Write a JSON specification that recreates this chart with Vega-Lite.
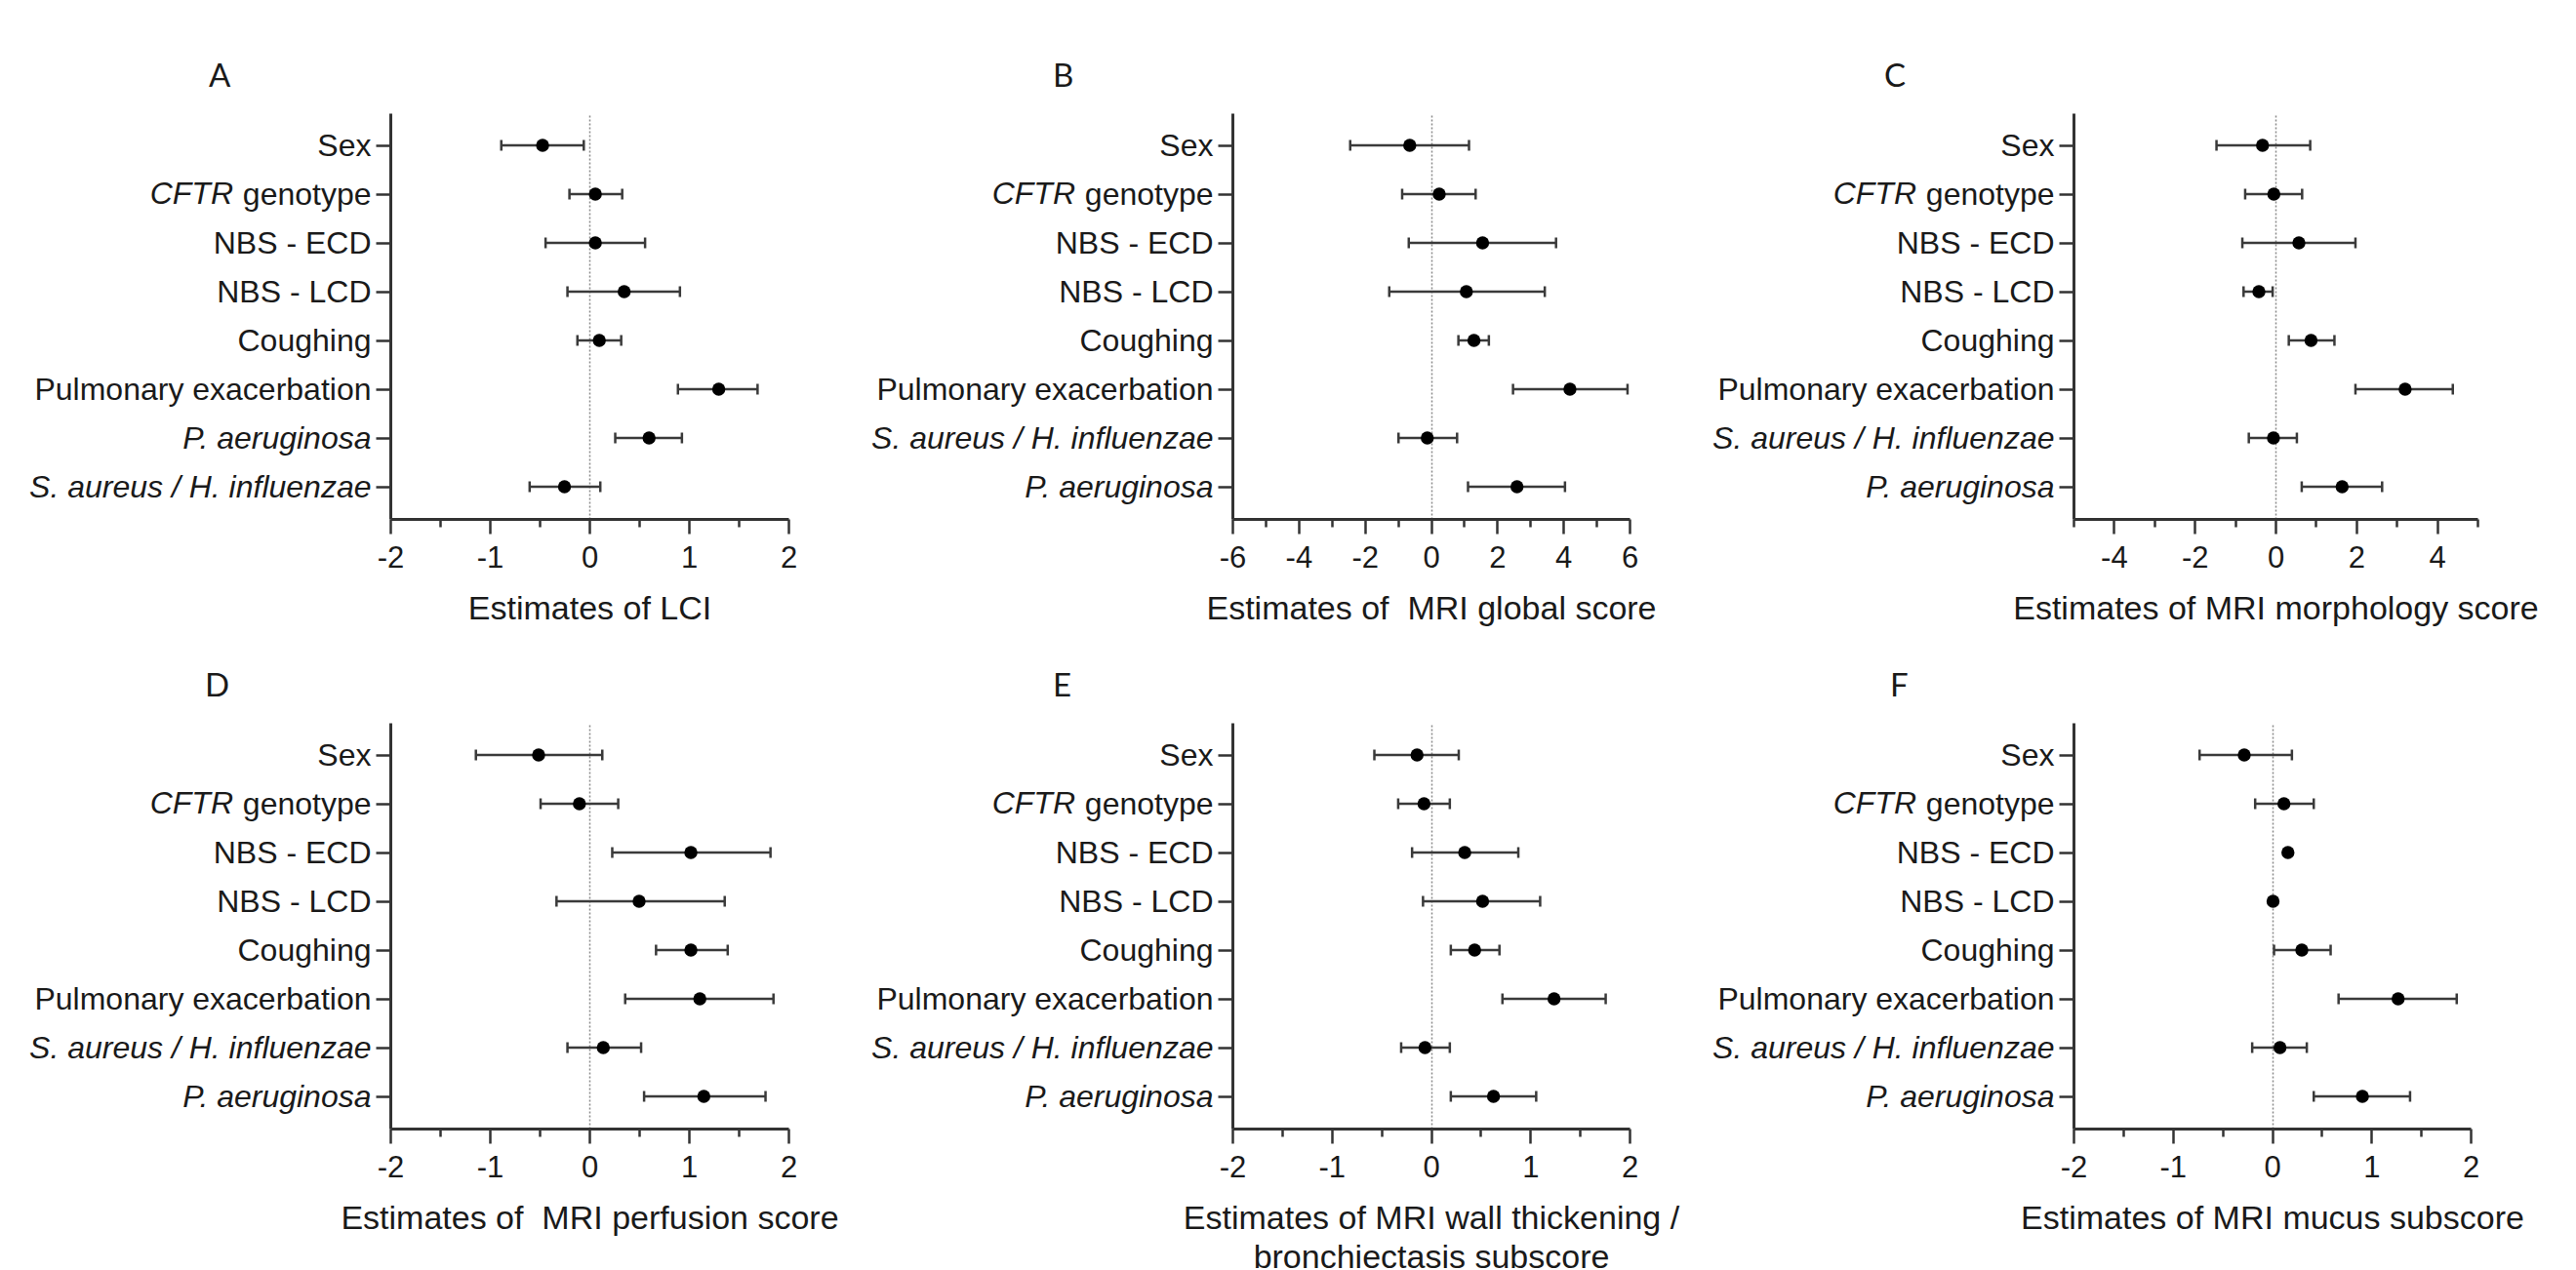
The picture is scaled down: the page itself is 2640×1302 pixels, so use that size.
{
  "$schema": "https://vega.github.io/schema/vega-lite/v6.json",
  "background": "white",
  "padding": {"left": 29, "top": 63, "right": 5, "bottom": 5},
  "datasets": {
    "est": [
      {"panel": "A", "var": "Sex", "est": -0.47, "lo": -0.885, "hi": -0.056},
      {"panel": "A", "var": "CFTR genotype", "est": 0.06, "lo": -0.2, "hi": 0.33},
      {"panel": "A", "var": "NBS - ECD", "est": 0.06, "lo": -0.44, "hi": 0.56},
      {"panel": "A", "var": "NBS - LCD", "est": 0.35, "lo": -0.22, "hi": 0.91},
      {"panel": "A", "var": "Coughing", "est": 0.1, "lo": -0.12, "hi": 0.32},
      {"panel": "A", "var": "Pulmonary exacerbation", "est": 1.3, "lo": 0.89, "hi": 1.69},
      {"panel": "A", "var": "P. aeruginosa", "est": 0.6, "lo": 0.26, "hi": 0.93},
      {"panel": "A", "var": "S. aureus / H. influenzae", "est": -0.25, "lo": -0.6, "hi": 0.11},
      {"panel": "B", "var": "Sex", "est": -0.64, "lo": -2.44, "hi": 1.15},
      {"panel": "B", "var": "CFTR genotype", "est": 0.25, "lo": -0.87, "hi": 1.35},
      {"panel": "B", "var": "NBS - ECD", "est": 1.56, "lo": -0.67, "hi": 3.78},
      {"panel": "B", "var": "NBS - LCD", "est": 1.07, "lo": -1.26, "hi": 3.44},
      {"panel": "B", "var": "Coughing", "est": 1.3, "lo": 0.83, "hi": 1.75},
      {"panel": "B", "var": "Pulmonary exacerbation", "est": 4.2, "lo": 2.48, "hi": 5.94},
      {"panel": "B", "var": "S. aureus / H. influenzae", "est": -0.11, "lo": -0.98, "hi": 0.79},
      {"panel": "B", "var": "P. aeruginosa", "est": 2.6, "lo": 1.12, "hi": 4.05},
      {"panel": "C", "var": "Sex", "est": -0.32, "lo": -1.46, "hi": 0.86},
      {"panel": "C", "var": "CFTR genotype", "est": -0.04, "lo": -0.75, "hi": 0.66},
      {"panel": "C", "var": "NBS - ECD", "est": 0.58, "lo": -0.82, "hi": 1.98},
      {"panel": "C", "var": "NBS - LCD", "est": -0.41, "lo": -0.79, "hi": -0.07},
      {"panel": "C", "var": "Coughing", "est": 0.88, "lo": 0.33, "hi": 1.46},
      {"panel": "C", "var": "Pulmonary exacerbation", "est": 3.21, "lo": 1.98, "hi": 4.39},
      {"panel": "C", "var": "S. aureus / H. influenzae", "est": -0.05, "lo": -0.66, "hi": 0.53},
      {"panel": "C", "var": "P. aeruginosa", "est": 1.65, "lo": 0.65, "hi": 2.64},
      {"panel": "D", "var": "Sex", "est": -0.51, "lo": -1.14, "hi": 0.13},
      {"panel": "D", "var": "CFTR genotype", "est": -0.1, "lo": -0.49, "hi": 0.29},
      {"panel": "D", "var": "NBS - ECD", "est": 1.02, "lo": 0.23, "hi": 1.82},
      {"panel": "D", "var": "NBS - LCD", "est": 0.5, "lo": -0.33, "hi": 1.36},
      {"panel": "D", "var": "Coughing", "est": 1.02, "lo": 0.67, "hi": 1.39},
      {"panel": "D", "var": "Pulmonary exacerbation", "est": 1.11, "lo": 0.36, "hi": 1.85},
      {"panel": "D", "var": "S. aureus / H. influenzae", "est": 0.14, "lo": -0.22, "hi": 0.52},
      {"panel": "D", "var": "P. aeruginosa", "est": 1.15, "lo": 0.55, "hi": 1.77},
      {"panel": "E", "var": "Sex", "est": -0.14, "lo": -0.57, "hi": 0.28},
      {"panel": "E", "var": "CFTR genotype", "est": -0.07, "lo": -0.33, "hi": 0.19},
      {"panel": "E", "var": "NBS - ECD", "est": 0.34, "lo": -0.19, "hi": 0.88},
      {"panel": "E", "var": "NBS - LCD", "est": 0.52, "lo": -0.08, "hi": 1.1},
      {"panel": "E", "var": "Coughing", "est": 0.44, "lo": 0.2, "hi": 0.69},
      {"panel": "E", "var": "Pulmonary exacerbation", "est": 1.24, "lo": 0.72, "hi": 1.76},
      {"panel": "E", "var": "S. aureus / H. influenzae", "est": -0.06, "lo": -0.3, "hi": 0.19},
      {"panel": "E", "var": "P. aeruginosa", "est": 0.63, "lo": 0.2, "hi": 1.06},
      {"panel": "F", "var": "Sex", "est": -0.28, "lo": -0.73, "hi": 0.2},
      {"panel": "F", "var": "CFTR genotype", "est": 0.12, "lo": -0.17, "hi": 0.42},
      {"panel": "F", "var": "NBS - ECD", "est": 0.16, "lo": null, "hi": null},
      {"panel": "F", "var": "NBS - LCD", "est": 0.01, "lo": null, "hi": null},
      {"panel": "F", "var": "Coughing", "est": 0.3, "lo": 0.02, "hi": 0.59},
      {"panel": "F", "var": "Pulmonary exacerbation", "est": 1.27, "lo": 0.67, "hi": 1.86},
      {"panel": "F", "var": "S. aureus / H. influenzae", "est": 0.08, "lo": -0.2, "hi": 0.35},
      {"panel": "F", "var": "P. aeruginosa", "est": 0.91, "lo": 0.42, "hi": 1.39}
    ]
  },
  "data": {"name": "est"},
  "columns": 3,
  "spacing": {"row": 209, "column": 455},
  "bounds": "flush",
  "align": "each",
  "concat": [
    {
      "width": 408, "height": 416,
      "title": {"text": "A", "anchor": "start", "frame": "group", "dx": -186, "offset": -6, "fontSize": 33, "font": "Lato", "fontWeight": "normal", "color": "#1a1a1a", "baseline": "alphabetic"},
      "transform": [{"filter": "datum.panel == 'A'"}],
      "layer": [
        {"transform": [{"filter": "isValid(datum.lo)"}], "mark": {"type": "rule", "color": "#3a3a3a", "strokeWidth": 2.5},
         "encoding": {
           "x": {"field": "lo", "type": "quantitative", "scale": {"domain": [-2, 2], "nice": false, "zero": false}, "axis": {"title": "Estimates of LCI", "values": [-2, -1.5, -1, -0.5, 0, 0.5, 1, 1.5, 2], "labelExpr": "datum.value % 1 == 0 ? '' + datum.value : ''", "grid": true, "encoding": {"ticks": {"y2": {"condition": {"test": "datum.value % 1 != 0", "value": 8}, "value": 15}}, "grid": {"opacity": {"condition": {"test": "datum.value == 0", "value": 1}, "value": 0}}}}},
           "x2": {"field": "hi"},
           "y": {"field": "var", "type": "nominal", "scale": {"type": "point", "padding": 0.66, "domain": ["Sex", "CFTR genotype", "NBS - ECD", "NBS - LCD", "Coughing", "Pulmonary exacerbation", "P. aeruginosa", "S. aureus / H. influenzae"]}, "axis": {"title": null, "labelExpr": "datum.value == 'CFTR genotype' ? 'genotype' : datum.value", "encoding": {"labels": {"fontStyle": {"condition": {"test": "datum.value == 'P. aeruginosa' || datum.value == 'S. aureus / H. influenzae'", "value": "italic"}, "value": "normal"}}}}}}},
        {"transform": [{"filter": "isValid(datum.lo)"}], "mark": {"type": "tick", "color": "#3a3a3a", "thickness": 2.5, "size": 11, "orient": "vertical", "opacity": 1},
         "encoding": {
           "x": {"field": "lo", "type": "quantitative", "scale": {"domain": [-2, 2], "nice": false, "zero": false}, "axis": {"title": "Estimates of LCI", "values": [-2, -1.5, -1, -0.5, 0, 0.5, 1, 1.5, 2], "labelExpr": "datum.value % 1 == 0 ? '' + datum.value : ''", "grid": true, "encoding": {"ticks": {"y2": {"condition": {"test": "datum.value % 1 != 0", "value": 8}, "value": 15}}, "grid": {"opacity": {"condition": {"test": "datum.value == 0", "value": 1}, "value": 0}}}}},
           "y": {"field": "var", "type": "nominal", "scale": {"type": "point", "padding": 0.66, "domain": ["Sex", "CFTR genotype", "NBS - ECD", "NBS - LCD", "Coughing", "Pulmonary exacerbation", "P. aeruginosa", "S. aureus / H. influenzae"]}, "axis": {"title": null, "labelExpr": "datum.value == 'CFTR genotype' ? 'genotype' : datum.value", "encoding": {"labels": {"fontStyle": {"condition": {"test": "datum.value == 'P. aeruginosa' || datum.value == 'S. aureus / H. influenzae'", "value": "italic"}, "value": "normal"}}}}}}},
        {"transform": [{"filter": "isValid(datum.hi)"}], "mark": {"type": "tick", "color": "#3a3a3a", "thickness": 2.5, "size": 11, "orient": "vertical", "opacity": 1},
         "encoding": {
           "x": {"field": "hi", "type": "quantitative", "scale": {"domain": [-2, 2], "nice": false, "zero": false}, "axis": {"title": "Estimates of LCI", "values": [-2, -1.5, -1, -0.5, 0, 0.5, 1, 1.5, 2], "labelExpr": "datum.value % 1 == 0 ? '' + datum.value : ''", "grid": true, "encoding": {"ticks": {"y2": {"condition": {"test": "datum.value % 1 != 0", "value": 8}, "value": 15}}, "grid": {"opacity": {"condition": {"test": "datum.value == 0", "value": 1}, "value": 0}}}}},
           "y": {"field": "var", "type": "nominal", "scale": {"type": "point", "padding": 0.66, "domain": ["Sex", "CFTR genotype", "NBS - ECD", "NBS - LCD", "Coughing", "Pulmonary exacerbation", "P. aeruginosa", "S. aureus / H. influenzae"]}, "axis": {"title": null, "labelExpr": "datum.value == 'CFTR genotype' ? 'genotype' : datum.value", "encoding": {"labels": {"fontStyle": {"condition": {"test": "datum.value == 'P. aeruginosa' || datum.value == 'S. aureus / H. influenzae'", "value": "italic"}, "value": "normal"}}}}}}},
        {"mark": {"type": "circle", "color": "#000000", "opacity": 1, "size": 180},
         "encoding": {
           "x": {"field": "est", "type": "quantitative", "scale": {"domain": [-2, 2], "nice": false, "zero": false}, "axis": {"title": "Estimates of LCI", "values": [-2, -1.5, -1, -0.5, 0, 0.5, 1, 1.5, 2], "labelExpr": "datum.value % 1 == 0 ? '' + datum.value : ''", "grid": true, "encoding": {"ticks": {"y2": {"condition": {"test": "datum.value % 1 != 0", "value": 8}, "value": 15}}, "grid": {"opacity": {"condition": {"test": "datum.value == 0", "value": 1}, "value": 0}}}}},
           "y": {"field": "var", "type": "nominal", "scale": {"type": "point", "padding": 0.66, "domain": ["Sex", "CFTR genotype", "NBS - ECD", "NBS - LCD", "Coughing", "Pulmonary exacerbation", "P. aeruginosa", "S. aureus / H. influenzae"]}, "axis": {"title": null, "labelExpr": "datum.value == 'CFTR genotype' ? 'genotype' : datum.value", "encoding": {"labels": {"fontStyle": {"condition": {"test": "datum.value == 'P. aeruginosa' || datum.value == 'S. aureus / H. influenzae'", "value": "italic"}, "value": "normal"}}}}}}},
        {"transform": [{"filter": "datum.var == 'CFTR genotype'"}],
         "mark": {"type": "text", "text": "CFTR", "fontStyle": "italic", "fontSize": 32, "font": "Liberation Sans", "align": "right", "baseline": "middle", "dx": -161, "color": "#1a1a1a"},
         "encoding": {
           "x": {"datum": -2, "type": "quantitative", "scale": {"domain": [-2, 2], "nice": false, "zero": false}, "axis": {"title": "Estimates of LCI", "values": [-2, -1.5, -1, -0.5, 0, 0.5, 1, 1.5, 2], "labelExpr": "datum.value % 1 == 0 ? '' + datum.value : ''", "grid": true, "encoding": {"ticks": {"y2": {"condition": {"test": "datum.value % 1 != 0", "value": 8}, "value": 15}}, "grid": {"opacity": {"condition": {"test": "datum.value == 0", "value": 1}, "value": 0}}}}},
           "y": {"field": "var", "type": "nominal", "scale": {"type": "point", "padding": 0.66, "domain": ["Sex", "CFTR genotype", "NBS - ECD", "NBS - LCD", "Coughing", "Pulmonary exacerbation", "P. aeruginosa", "S. aureus / H. influenzae"]}, "axis": {"title": null, "labelExpr": "datum.value == 'CFTR genotype' ? 'genotype' : datum.value", "encoding": {"labels": {"fontStyle": {"condition": {"test": "datum.value == 'P. aeruginosa' || datum.value == 'S. aureus / H. influenzae'", "value": "italic"}, "value": "normal"}}}}}}}
      ]
    },
    {
      "width": 407, "height": 416,
      "title": {"text": "B", "anchor": "start", "frame": "group", "dx": -184, "offset": -6, "fontSize": 33, "font": "Lato", "fontWeight": "normal", "color": "#1a1a1a", "baseline": "alphabetic"},
      "transform": [{"filter": "datum.panel == 'B'"}],
      "layer": [
        {"transform": [{"filter": "isValid(datum.lo)"}], "mark": {"type": "rule", "color": "#3a3a3a", "strokeWidth": 2.5},
         "encoding": {
           "x": {"field": "lo", "type": "quantitative", "scale": {"domain": [-6, 6], "nice": false, "zero": false}, "axis": {"title": "Estimates of\u00a0 MRI global score", "values": [-6, -5, -4, -3, -2, -1, 0, 1, 2, 3, 4, 5, 6], "labelExpr": "datum.value % 2 == 0 ? '' + datum.value : ''", "grid": true, "encoding": {"ticks": {"y2": {"condition": {"test": "datum.value % 2 != 0", "value": 8}, "value": 15}}, "grid": {"opacity": {"condition": {"test": "datum.value == 0", "value": 1}, "value": 0}}}}},
           "x2": {"field": "hi"},
           "y": {"field": "var", "type": "nominal", "scale": {"type": "point", "padding": 0.66, "domain": ["Sex", "CFTR genotype", "NBS - ECD", "NBS - LCD", "Coughing", "Pulmonary exacerbation", "S. aureus / H. influenzae", "P. aeruginosa"]}, "axis": {"title": null, "labelExpr": "datum.value == 'CFTR genotype' ? 'genotype' : datum.value", "encoding": {"labels": {"fontStyle": {"condition": {"test": "datum.value == 'P. aeruginosa' || datum.value == 'S. aureus / H. influenzae'", "value": "italic"}, "value": "normal"}}}}}}},
        {"transform": [{"filter": "isValid(datum.lo)"}], "mark": {"type": "tick", "color": "#3a3a3a", "thickness": 2.5, "size": 11, "orient": "vertical", "opacity": 1},
         "encoding": {
           "x": {"field": "lo", "type": "quantitative", "scale": {"domain": [-6, 6], "nice": false, "zero": false}, "axis": {"title": "Estimates of\u00a0 MRI global score", "values": [-6, -5, -4, -3, -2, -1, 0, 1, 2, 3, 4, 5, 6], "labelExpr": "datum.value % 2 == 0 ? '' + datum.value : ''", "grid": true, "encoding": {"ticks": {"y2": {"condition": {"test": "datum.value % 2 != 0", "value": 8}, "value": 15}}, "grid": {"opacity": {"condition": {"test": "datum.value == 0", "value": 1}, "value": 0}}}}},
           "y": {"field": "var", "type": "nominal", "scale": {"type": "point", "padding": 0.66, "domain": ["Sex", "CFTR genotype", "NBS - ECD", "NBS - LCD", "Coughing", "Pulmonary exacerbation", "S. aureus / H. influenzae", "P. aeruginosa"]}, "axis": {"title": null, "labelExpr": "datum.value == 'CFTR genotype' ? 'genotype' : datum.value", "encoding": {"labels": {"fontStyle": {"condition": {"test": "datum.value == 'P. aeruginosa' || datum.value == 'S. aureus / H. influenzae'", "value": "italic"}, "value": "normal"}}}}}}},
        {"transform": [{"filter": "isValid(datum.hi)"}], "mark": {"type": "tick", "color": "#3a3a3a", "thickness": 2.5, "size": 11, "orient": "vertical", "opacity": 1},
         "encoding": {
           "x": {"field": "hi", "type": "quantitative", "scale": {"domain": [-6, 6], "nice": false, "zero": false}, "axis": {"title": "Estimates of\u00a0 MRI global score", "values": [-6, -5, -4, -3, -2, -1, 0, 1, 2, 3, 4, 5, 6], "labelExpr": "datum.value % 2 == 0 ? '' + datum.value : ''", "grid": true, "encoding": {"ticks": {"y2": {"condition": {"test": "datum.value % 2 != 0", "value": 8}, "value": 15}}, "grid": {"opacity": {"condition": {"test": "datum.value == 0", "value": 1}, "value": 0}}}}},
           "y": {"field": "var", "type": "nominal", "scale": {"type": "point", "padding": 0.66, "domain": ["Sex", "CFTR genotype", "NBS - ECD", "NBS - LCD", "Coughing", "Pulmonary exacerbation", "S. aureus / H. influenzae", "P. aeruginosa"]}, "axis": {"title": null, "labelExpr": "datum.value == 'CFTR genotype' ? 'genotype' : datum.value", "encoding": {"labels": {"fontStyle": {"condition": {"test": "datum.value == 'P. aeruginosa' || datum.value == 'S. aureus / H. influenzae'", "value": "italic"}, "value": "normal"}}}}}}},
        {"mark": {"type": "circle", "color": "#000000", "opacity": 1, "size": 180},
         "encoding": {
           "x": {"field": "est", "type": "quantitative", "scale": {"domain": [-6, 6], "nice": false, "zero": false}, "axis": {"title": "Estimates of\u00a0 MRI global score", "values": [-6, -5, -4, -3, -2, -1, 0, 1, 2, 3, 4, 5, 6], "labelExpr": "datum.value % 2 == 0 ? '' + datum.value : ''", "grid": true, "encoding": {"ticks": {"y2": {"condition": {"test": "datum.value % 2 != 0", "value": 8}, "value": 15}}, "grid": {"opacity": {"condition": {"test": "datum.value == 0", "value": 1}, "value": 0}}}}},
           "y": {"field": "var", "type": "nominal", "scale": {"type": "point", "padding": 0.66, "domain": ["Sex", "CFTR genotype", "NBS - ECD", "NBS - LCD", "Coughing", "Pulmonary exacerbation", "S. aureus / H. influenzae", "P. aeruginosa"]}, "axis": {"title": null, "labelExpr": "datum.value == 'CFTR genotype' ? 'genotype' : datum.value", "encoding": {"labels": {"fontStyle": {"condition": {"test": "datum.value == 'P. aeruginosa' || datum.value == 'S. aureus / H. influenzae'", "value": "italic"}, "value": "normal"}}}}}}},
        {"transform": [{"filter": "datum.var == 'CFTR genotype'"}],
         "mark": {"type": "text", "text": "CFTR", "fontStyle": "italic", "fontSize": 32, "font": "Liberation Sans", "align": "right", "baseline": "middle", "dx": -161, "color": "#1a1a1a"},
         "encoding": {
           "x": {"datum": -6, "type": "quantitative", "scale": {"domain": [-6, 6], "nice": false, "zero": false}, "axis": {"title": "Estimates of\u00a0 MRI global score", "values": [-6, -5, -4, -3, -2, -1, 0, 1, 2, 3, 4, 5, 6], "labelExpr": "datum.value % 2 == 0 ? '' + datum.value : ''", "grid": true, "encoding": {"ticks": {"y2": {"condition": {"test": "datum.value % 2 != 0", "value": 8}, "value": 15}}, "grid": {"opacity": {"condition": {"test": "datum.value == 0", "value": 1}, "value": 0}}}}},
           "y": {"field": "var", "type": "nominal", "scale": {"type": "point", "padding": 0.66, "domain": ["Sex", "CFTR genotype", "NBS - ECD", "NBS - LCD", "Coughing", "Pulmonary exacerbation", "S. aureus / H. influenzae", "P. aeruginosa"]}, "axis": {"title": null, "labelExpr": "datum.value == 'CFTR genotype' ? 'genotype' : datum.value", "encoding": {"labels": {"fontStyle": {"condition": {"test": "datum.value == 'P. aeruginosa' || datum.value == 'S. aureus / H. influenzae'", "value": "italic"}, "value": "normal"}}}}}}}
      ]
    },
    {
      "width": 414, "height": 416,
      "title": {"text": "C", "anchor": "start", "frame": "group", "dx": -194, "offset": -6, "fontSize": 33, "font": "Lato", "fontWeight": "normal", "color": "#1a1a1a", "baseline": "alphabetic"},
      "transform": [{"filter": "datum.panel == 'C'"}],
      "layer": [
        {"transform": [{"filter": "isValid(datum.lo)"}], "mark": {"type": "rule", "color": "#3a3a3a", "strokeWidth": 2.5},
         "encoding": {
           "x": {"field": "lo", "type": "quantitative", "scale": {"domain": [-5, 5], "nice": false, "zero": false}, "axis": {"title": "Estimates of MRI morphology score", "values": [-5, -4, -3, -2, -1, 0, 1, 2, 3, 4, 5], "labelExpr": "datum.value % 2 == 0 ? '' + datum.value : ''", "grid": true, "encoding": {"ticks": {"y2": {"condition": {"test": "datum.value % 2 != 0", "value": 8}, "value": 15}}, "grid": {"opacity": {"condition": {"test": "datum.value == 0", "value": 1}, "value": 0}}}}},
           "x2": {"field": "hi"},
           "y": {"field": "var", "type": "nominal", "scale": {"type": "point", "padding": 0.66, "domain": ["Sex", "CFTR genotype", "NBS - ECD", "NBS - LCD", "Coughing", "Pulmonary exacerbation", "S. aureus / H. influenzae", "P. aeruginosa"]}, "axis": {"title": null, "labelExpr": "datum.value == 'CFTR genotype' ? 'genotype' : datum.value", "encoding": {"labels": {"fontStyle": {"condition": {"test": "datum.value == 'P. aeruginosa' || datum.value == 'S. aureus / H. influenzae'", "value": "italic"}, "value": "normal"}}}}}}},
        {"transform": [{"filter": "isValid(datum.lo)"}], "mark": {"type": "tick", "color": "#3a3a3a", "thickness": 2.5, "size": 11, "orient": "vertical", "opacity": 1},
         "encoding": {
           "x": {"field": "lo", "type": "quantitative", "scale": {"domain": [-5, 5], "nice": false, "zero": false}, "axis": {"title": "Estimates of MRI morphology score", "values": [-5, -4, -3, -2, -1, 0, 1, 2, 3, 4, 5], "labelExpr": "datum.value % 2 == 0 ? '' + datum.value : ''", "grid": true, "encoding": {"ticks": {"y2": {"condition": {"test": "datum.value % 2 != 0", "value": 8}, "value": 15}}, "grid": {"opacity": {"condition": {"test": "datum.value == 0", "value": 1}, "value": 0}}}}},
           "y": {"field": "var", "type": "nominal", "scale": {"type": "point", "padding": 0.66, "domain": ["Sex", "CFTR genotype", "NBS - ECD", "NBS - LCD", "Coughing", "Pulmonary exacerbation", "S. aureus / H. influenzae", "P. aeruginosa"]}, "axis": {"title": null, "labelExpr": "datum.value == 'CFTR genotype' ? 'genotype' : datum.value", "encoding": {"labels": {"fontStyle": {"condition": {"test": "datum.value == 'P. aeruginosa' || datum.value == 'S. aureus / H. influenzae'", "value": "italic"}, "value": "normal"}}}}}}},
        {"transform": [{"filter": "isValid(datum.hi)"}], "mark": {"type": "tick", "color": "#3a3a3a", "thickness": 2.5, "size": 11, "orient": "vertical", "opacity": 1},
         "encoding": {
           "x": {"field": "hi", "type": "quantitative", "scale": {"domain": [-5, 5], "nice": false, "zero": false}, "axis": {"title": "Estimates of MRI morphology score", "values": [-5, -4, -3, -2, -1, 0, 1, 2, 3, 4, 5], "labelExpr": "datum.value % 2 == 0 ? '' + datum.value : ''", "grid": true, "encoding": {"ticks": {"y2": {"condition": {"test": "datum.value % 2 != 0", "value": 8}, "value": 15}}, "grid": {"opacity": {"condition": {"test": "datum.value == 0", "value": 1}, "value": 0}}}}},
           "y": {"field": "var", "type": "nominal", "scale": {"type": "point", "padding": 0.66, "domain": ["Sex", "CFTR genotype", "NBS - ECD", "NBS - LCD", "Coughing", "Pulmonary exacerbation", "S. aureus / H. influenzae", "P. aeruginosa"]}, "axis": {"title": null, "labelExpr": "datum.value == 'CFTR genotype' ? 'genotype' : datum.value", "encoding": {"labels": {"fontStyle": {"condition": {"test": "datum.value == 'P. aeruginosa' || datum.value == 'S. aureus / H. influenzae'", "value": "italic"}, "value": "normal"}}}}}}},
        {"mark": {"type": "circle", "color": "#000000", "opacity": 1, "size": 180},
         "encoding": {
           "x": {"field": "est", "type": "quantitative", "scale": {"domain": [-5, 5], "nice": false, "zero": false}, "axis": {"title": "Estimates of MRI morphology score", "values": [-5, -4, -3, -2, -1, 0, 1, 2, 3, 4, 5], "labelExpr": "datum.value % 2 == 0 ? '' + datum.value : ''", "grid": true, "encoding": {"ticks": {"y2": {"condition": {"test": "datum.value % 2 != 0", "value": 8}, "value": 15}}, "grid": {"opacity": {"condition": {"test": "datum.value == 0", "value": 1}, "value": 0}}}}},
           "y": {"field": "var", "type": "nominal", "scale": {"type": "point", "padding": 0.66, "domain": ["Sex", "CFTR genotype", "NBS - ECD", "NBS - LCD", "Coughing", "Pulmonary exacerbation", "S. aureus / H. influenzae", "P. aeruginosa"]}, "axis": {"title": null, "labelExpr": "datum.value == 'CFTR genotype' ? 'genotype' : datum.value", "encoding": {"labels": {"fontStyle": {"condition": {"test": "datum.value == 'P. aeruginosa' || datum.value == 'S. aureus / H. influenzae'", "value": "italic"}, "value": "normal"}}}}}}},
        {"transform": [{"filter": "datum.var == 'CFTR genotype'"}],
         "mark": {"type": "text", "text": "CFTR", "fontStyle": "italic", "fontSize": 32, "font": "Liberation Sans", "align": "right", "baseline": "middle", "dx": -161, "color": "#1a1a1a"},
         "encoding": {
           "x": {"datum": -5, "type": "quantitative", "scale": {"domain": [-5, 5], "nice": false, "zero": false}, "axis": {"title": "Estimates of MRI morphology score", "values": [-5, -4, -3, -2, -1, 0, 1, 2, 3, 4, 5], "labelExpr": "datum.value % 2 == 0 ? '' + datum.value : ''", "grid": true, "encoding": {"ticks": {"y2": {"condition": {"test": "datum.value % 2 != 0", "value": 8}, "value": 15}}, "grid": {"opacity": {"condition": {"test": "datum.value == 0", "value": 1}, "value": 0}}}}},
           "y": {"field": "var", "type": "nominal", "scale": {"type": "point", "padding": 0.66, "domain": ["Sex", "CFTR genotype", "NBS - ECD", "NBS - LCD", "Coughing", "Pulmonary exacerbation", "S. aureus / H. influenzae", "P. aeruginosa"]}, "axis": {"title": null, "labelExpr": "datum.value == 'CFTR genotype' ? 'genotype' : datum.value", "encoding": {"labels": {"fontStyle": {"condition": {"test": "datum.value == 'P. aeruginosa' || datum.value == 'S. aureus / H. influenzae'", "value": "italic"}, "value": "normal"}}}}}}}
      ]
    },
    {
      "width": 408, "height": 416,
      "title": {"text": "D", "anchor": "start", "frame": "group", "dx": -190, "offset": -6, "fontSize": 33, "font": "Lato", "fontWeight": "normal", "color": "#1a1a1a", "baseline": "alphabetic"},
      "transform": [{"filter": "datum.panel == 'D'"}],
      "layer": [
        {"transform": [{"filter": "isValid(datum.lo)"}], "mark": {"type": "rule", "color": "#3a3a3a", "strokeWidth": 2.5},
         "encoding": {
           "x": {"field": "lo", "type": "quantitative", "scale": {"domain": [-2, 2], "nice": false, "zero": false}, "axis": {"title": "Estimates of\u00a0 MRI perfusion score", "values": [-2, -1.5, -1, -0.5, 0, 0.5, 1, 1.5, 2], "labelExpr": "datum.value % 1 == 0 ? '' + datum.value : ''", "grid": true, "encoding": {"ticks": {"y2": {"condition": {"test": "datum.value % 1 != 0", "value": 8}, "value": 15}}, "grid": {"opacity": {"condition": {"test": "datum.value == 0", "value": 1}, "value": 0}}}}},
           "x2": {"field": "hi"},
           "y": {"field": "var", "type": "nominal", "scale": {"type": "point", "padding": 0.66, "domain": ["Sex", "CFTR genotype", "NBS - ECD", "NBS - LCD", "Coughing", "Pulmonary exacerbation", "S. aureus / H. influenzae", "P. aeruginosa"]}, "axis": {"title": null, "labelExpr": "datum.value == 'CFTR genotype' ? 'genotype' : datum.value", "encoding": {"labels": {"fontStyle": {"condition": {"test": "datum.value == 'P. aeruginosa' || datum.value == 'S. aureus / H. influenzae'", "value": "italic"}, "value": "normal"}}}}}}},
        {"transform": [{"filter": "isValid(datum.lo)"}], "mark": {"type": "tick", "color": "#3a3a3a", "thickness": 2.5, "size": 11, "orient": "vertical", "opacity": 1},
         "encoding": {
           "x": {"field": "lo", "type": "quantitative", "scale": {"domain": [-2, 2], "nice": false, "zero": false}, "axis": {"title": "Estimates of\u00a0 MRI perfusion score", "values": [-2, -1.5, -1, -0.5, 0, 0.5, 1, 1.5, 2], "labelExpr": "datum.value % 1 == 0 ? '' + datum.value : ''", "grid": true, "encoding": {"ticks": {"y2": {"condition": {"test": "datum.value % 1 != 0", "value": 8}, "value": 15}}, "grid": {"opacity": {"condition": {"test": "datum.value == 0", "value": 1}, "value": 0}}}}},
           "y": {"field": "var", "type": "nominal", "scale": {"type": "point", "padding": 0.66, "domain": ["Sex", "CFTR genotype", "NBS - ECD", "NBS - LCD", "Coughing", "Pulmonary exacerbation", "S. aureus / H. influenzae", "P. aeruginosa"]}, "axis": {"title": null, "labelExpr": "datum.value == 'CFTR genotype' ? 'genotype' : datum.value", "encoding": {"labels": {"fontStyle": {"condition": {"test": "datum.value == 'P. aeruginosa' || datum.value == 'S. aureus / H. influenzae'", "value": "italic"}, "value": "normal"}}}}}}},
        {"transform": [{"filter": "isValid(datum.hi)"}], "mark": {"type": "tick", "color": "#3a3a3a", "thickness": 2.5, "size": 11, "orient": "vertical", "opacity": 1},
         "encoding": {
           "x": {"field": "hi", "type": "quantitative", "scale": {"domain": [-2, 2], "nice": false, "zero": false}, "axis": {"title": "Estimates of\u00a0 MRI perfusion score", "values": [-2, -1.5, -1, -0.5, 0, 0.5, 1, 1.5, 2], "labelExpr": "datum.value % 1 == 0 ? '' + datum.value : ''", "grid": true, "encoding": {"ticks": {"y2": {"condition": {"test": "datum.value % 1 != 0", "value": 8}, "value": 15}}, "grid": {"opacity": {"condition": {"test": "datum.value == 0", "value": 1}, "value": 0}}}}},
           "y": {"field": "var", "type": "nominal", "scale": {"type": "point", "padding": 0.66, "domain": ["Sex", "CFTR genotype", "NBS - ECD", "NBS - LCD", "Coughing", "Pulmonary exacerbation", "S. aureus / H. influenzae", "P. aeruginosa"]}, "axis": {"title": null, "labelExpr": "datum.value == 'CFTR genotype' ? 'genotype' : datum.value", "encoding": {"labels": {"fontStyle": {"condition": {"test": "datum.value == 'P. aeruginosa' || datum.value == 'S. aureus / H. influenzae'", "value": "italic"}, "value": "normal"}}}}}}},
        {"mark": {"type": "circle", "color": "#000000", "opacity": 1, "size": 180},
         "encoding": {
           "x": {"field": "est", "type": "quantitative", "scale": {"domain": [-2, 2], "nice": false, "zero": false}, "axis": {"title": "Estimates of\u00a0 MRI perfusion score", "values": [-2, -1.5, -1, -0.5, 0, 0.5, 1, 1.5, 2], "labelExpr": "datum.value % 1 == 0 ? '' + datum.value : ''", "grid": true, "encoding": {"ticks": {"y2": {"condition": {"test": "datum.value % 1 != 0", "value": 8}, "value": 15}}, "grid": {"opacity": {"condition": {"test": "datum.value == 0", "value": 1}, "value": 0}}}}},
           "y": {"field": "var", "type": "nominal", "scale": {"type": "point", "padding": 0.66, "domain": ["Sex", "CFTR genotype", "NBS - ECD", "NBS - LCD", "Coughing", "Pulmonary exacerbation", "S. aureus / H. influenzae", "P. aeruginosa"]}, "axis": {"title": null, "labelExpr": "datum.value == 'CFTR genotype' ? 'genotype' : datum.value", "encoding": {"labels": {"fontStyle": {"condition": {"test": "datum.value == 'P. aeruginosa' || datum.value == 'S. aureus / H. influenzae'", "value": "italic"}, "value": "normal"}}}}}}},
        {"transform": [{"filter": "datum.var == 'CFTR genotype'"}],
         "mark": {"type": "text", "text": "CFTR", "fontStyle": "italic", "fontSize": 32, "font": "Liberation Sans", "align": "right", "baseline": "middle", "dx": -161, "color": "#1a1a1a"},
         "encoding": {
           "x": {"datum": -2, "type": "quantitative", "scale": {"domain": [-2, 2], "nice": false, "zero": false}, "axis": {"title": "Estimates of\u00a0 MRI perfusion score", "values": [-2, -1.5, -1, -0.5, 0, 0.5, 1, 1.5, 2], "labelExpr": "datum.value % 1 == 0 ? '' + datum.value : ''", "grid": true, "encoding": {"ticks": {"y2": {"condition": {"test": "datum.value % 1 != 0", "value": 8}, "value": 15}}, "grid": {"opacity": {"condition": {"test": "datum.value == 0", "value": 1}, "value": 0}}}}},
           "y": {"field": "var", "type": "nominal", "scale": {"type": "point", "padding": 0.66, "domain": ["Sex", "CFTR genotype", "NBS - ECD", "NBS - LCD", "Coughing", "Pulmonary exacerbation", "S. aureus / H. influenzae", "P. aeruginosa"]}, "axis": {"title": null, "labelExpr": "datum.value == 'CFTR genotype' ? 'genotype' : datum.value", "encoding": {"labels": {"fontStyle": {"condition": {"test": "datum.value == 'P. aeruginosa' || datum.value == 'S. aureus / H. influenzae'", "value": "italic"}, "value": "normal"}}}}}}}
      ]
    },
    {
      "width": 407, "height": 416,
      "title": {"text": "E", "anchor": "start", "frame": "group", "dx": -184, "offset": -6, "fontSize": 33, "font": "Lato", "fontWeight": "normal", "color": "#1a1a1a", "baseline": "alphabetic"},
      "transform": [{"filter": "datum.panel == 'E'"}],
      "layer": [
        {"transform": [{"filter": "isValid(datum.lo)"}], "mark": {"type": "rule", "color": "#3a3a3a", "strokeWidth": 2.5},
         "encoding": {
           "x": {"field": "lo", "type": "quantitative", "scale": {"domain": [-2, 2], "nice": false, "zero": false}, "axis": {"title": "Estimates of MRI wall thickening /", "values": [-2, -1.5, -1, -0.5, 0, 0.5, 1, 1.5, 2], "labelExpr": "datum.value % 1 == 0 ? '' + datum.value : ''", "grid": true, "encoding": {"ticks": {"y2": {"condition": {"test": "datum.value % 1 != 0", "value": 8}, "value": 15}}, "grid": {"opacity": {"condition": {"test": "datum.value == 0", "value": 1}, "value": 0}}, "title": {"text": {"value": ["Estimates of MRI wall thickening /", "bronchiectasis subscore"]}}}}},
           "x2": {"field": "hi"},
           "y": {"field": "var", "type": "nominal", "scale": {"type": "point", "padding": 0.66, "domain": ["Sex", "CFTR genotype", "NBS - ECD", "NBS - LCD", "Coughing", "Pulmonary exacerbation", "S. aureus / H. influenzae", "P. aeruginosa"]}, "axis": {"title": null, "labelExpr": "datum.value == 'CFTR genotype' ? 'genotype' : datum.value", "encoding": {"labels": {"fontStyle": {"condition": {"test": "datum.value == 'P. aeruginosa' || datum.value == 'S. aureus / H. influenzae'", "value": "italic"}, "value": "normal"}}}}}}},
        {"transform": [{"filter": "isValid(datum.lo)"}], "mark": {"type": "tick", "color": "#3a3a3a", "thickness": 2.5, "size": 11, "orient": "vertical", "opacity": 1},
         "encoding": {
           "x": {"field": "lo", "type": "quantitative", "scale": {"domain": [-2, 2], "nice": false, "zero": false}, "axis": {"title": "Estimates of MRI wall thickening /", "values": [-2, -1.5, -1, -0.5, 0, 0.5, 1, 1.5, 2], "labelExpr": "datum.value % 1 == 0 ? '' + datum.value : ''", "grid": true, "encoding": {"ticks": {"y2": {"condition": {"test": "datum.value % 1 != 0", "value": 8}, "value": 15}}, "grid": {"opacity": {"condition": {"test": "datum.value == 0", "value": 1}, "value": 0}}, "title": {"text": {"value": ["Estimates of MRI wall thickening /", "bronchiectasis subscore"]}}}}},
           "y": {"field": "var", "type": "nominal", "scale": {"type": "point", "padding": 0.66, "domain": ["Sex", "CFTR genotype", "NBS - ECD", "NBS - LCD", "Coughing", "Pulmonary exacerbation", "S. aureus / H. influenzae", "P. aeruginosa"]}, "axis": {"title": null, "labelExpr": "datum.value == 'CFTR genotype' ? 'genotype' : datum.value", "encoding": {"labels": {"fontStyle": {"condition": {"test": "datum.value == 'P. aeruginosa' || datum.value == 'S. aureus / H. influenzae'", "value": "italic"}, "value": "normal"}}}}}}},
        {"transform": [{"filter": "isValid(datum.hi)"}], "mark": {"type": "tick", "color": "#3a3a3a", "thickness": 2.5, "size": 11, "orient": "vertical", "opacity": 1},
         "encoding": {
           "x": {"field": "hi", "type": "quantitative", "scale": {"domain": [-2, 2], "nice": false, "zero": false}, "axis": {"title": "Estimates of MRI wall thickening /", "values": [-2, -1.5, -1, -0.5, 0, 0.5, 1, 1.5, 2], "labelExpr": "datum.value % 1 == 0 ? '' + datum.value : ''", "grid": true, "encoding": {"ticks": {"y2": {"condition": {"test": "datum.value % 1 != 0", "value": 8}, "value": 15}}, "grid": {"opacity": {"condition": {"test": "datum.value == 0", "value": 1}, "value": 0}}, "title": {"text": {"value": ["Estimates of MRI wall thickening /", "bronchiectasis subscore"]}}}}},
           "y": {"field": "var", "type": "nominal", "scale": {"type": "point", "padding": 0.66, "domain": ["Sex", "CFTR genotype", "NBS - ECD", "NBS - LCD", "Coughing", "Pulmonary exacerbation", "S. aureus / H. influenzae", "P. aeruginosa"]}, "axis": {"title": null, "labelExpr": "datum.value == 'CFTR genotype' ? 'genotype' : datum.value", "encoding": {"labels": {"fontStyle": {"condition": {"test": "datum.value == 'P. aeruginosa' || datum.value == 'S. aureus / H. influenzae'", "value": "italic"}, "value": "normal"}}}}}}},
        {"mark": {"type": "circle", "color": "#000000", "opacity": 1, "size": 180},
         "encoding": {
           "x": {"field": "est", "type": "quantitative", "scale": {"domain": [-2, 2], "nice": false, "zero": false}, "axis": {"title": "Estimates of MRI wall thickening /", "values": [-2, -1.5, -1, -0.5, 0, 0.5, 1, 1.5, 2], "labelExpr": "datum.value % 1 == 0 ? '' + datum.value : ''", "grid": true, "encoding": {"ticks": {"y2": {"condition": {"test": "datum.value % 1 != 0", "value": 8}, "value": 15}}, "grid": {"opacity": {"condition": {"test": "datum.value == 0", "value": 1}, "value": 0}}, "title": {"text": {"value": ["Estimates of MRI wall thickening /", "bronchiectasis subscore"]}}}}},
           "y": {"field": "var", "type": "nominal", "scale": {"type": "point", "padding": 0.66, "domain": ["Sex", "CFTR genotype", "NBS - ECD", "NBS - LCD", "Coughing", "Pulmonary exacerbation", "S. aureus / H. influenzae", "P. aeruginosa"]}, "axis": {"title": null, "labelExpr": "datum.value == 'CFTR genotype' ? 'genotype' : datum.value", "encoding": {"labels": {"fontStyle": {"condition": {"test": "datum.value == 'P. aeruginosa' || datum.value == 'S. aureus / H. influenzae'", "value": "italic"}, "value": "normal"}}}}}}},
        {"transform": [{"filter": "datum.var == 'CFTR genotype'"}],
         "mark": {"type": "text", "text": "CFTR", "fontStyle": "italic", "fontSize": 32, "font": "Liberation Sans", "align": "right", "baseline": "middle", "dx": -161, "color": "#1a1a1a"},
         "encoding": {
           "x": {"datum": -2, "type": "quantitative", "scale": {"domain": [-2, 2], "nice": false, "zero": false}, "axis": {"title": "Estimates of MRI wall thickening /", "values": [-2, -1.5, -1, -0.5, 0, 0.5, 1, 1.5, 2], "labelExpr": "datum.value % 1 == 0 ? '' + datum.value : ''", "grid": true, "encoding": {"ticks": {"y2": {"condition": {"test": "datum.value % 1 != 0", "value": 8}, "value": 15}}, "grid": {"opacity": {"condition": {"test": "datum.value == 0", "value": 1}, "value": 0}}, "title": {"text": {"value": ["Estimates of MRI wall thickening /", "bronchiectasis subscore"]}}}}},
           "y": {"field": "var", "type": "nominal", "scale": {"type": "point", "padding": 0.66, "domain": ["Sex", "CFTR genotype", "NBS - ECD", "NBS - LCD", "Coughing", "Pulmonary exacerbation", "S. aureus / H. influenzae", "P. aeruginosa"]}, "axis": {"title": null, "labelExpr": "datum.value == 'CFTR genotype' ? 'genotype' : datum.value", "encoding": {"labels": {"fontStyle": {"condition": {"test": "datum.value == 'P. aeruginosa' || datum.value == 'S. aureus / H. influenzae'", "value": "italic"}, "value": "normal"}}}}}}}
      ]
    },
    {
      "width": 407, "height": 416,
      "title": {"text": "F", "anchor": "start", "frame": "group", "dx": -188, "offset": -6, "fontSize": 33, "font": "Lato", "fontWeight": "normal", "color": "#1a1a1a", "baseline": "alphabetic"},
      "transform": [{"filter": "datum.panel == 'F'"}],
      "layer": [
        {"transform": [{"filter": "isValid(datum.lo)"}], "mark": {"type": "rule", "color": "#3a3a3a", "strokeWidth": 2.5},
         "encoding": {
           "x": {"field": "lo", "type": "quantitative", "scale": {"domain": [-2, 2], "nice": false, "zero": false}, "axis": {"title": "Estimates of MRI mucus subscore", "values": [-2, -1.5, -1, -0.5, 0, 0.5, 1, 1.5, 2], "labelExpr": "datum.value % 1 == 0 ? '' + datum.value : ''", "grid": true, "encoding": {"ticks": {"y2": {"condition": {"test": "datum.value % 1 != 0", "value": 8}, "value": 15}}, "grid": {"opacity": {"condition": {"test": "datum.value == 0", "value": 1}, "value": 0}}}}},
           "x2": {"field": "hi"},
           "y": {"field": "var", "type": "nominal", "scale": {"type": "point", "padding": 0.66, "domain": ["Sex", "CFTR genotype", "NBS - ECD", "NBS - LCD", "Coughing", "Pulmonary exacerbation", "S. aureus / H. influenzae", "P. aeruginosa"]}, "axis": {"title": null, "labelExpr": "datum.value == 'CFTR genotype' ? 'genotype' : datum.value", "encoding": {"labels": {"fontStyle": {"condition": {"test": "datum.value == 'P. aeruginosa' || datum.value == 'S. aureus / H. influenzae'", "value": "italic"}, "value": "normal"}}}}}}},
        {"transform": [{"filter": "isValid(datum.lo)"}], "mark": {"type": "tick", "color": "#3a3a3a", "thickness": 2.5, "size": 11, "orient": "vertical", "opacity": 1},
         "encoding": {
           "x": {"field": "lo", "type": "quantitative", "scale": {"domain": [-2, 2], "nice": false, "zero": false}, "axis": {"title": "Estimates of MRI mucus subscore", "values": [-2, -1.5, -1, -0.5, 0, 0.5, 1, 1.5, 2], "labelExpr": "datum.value % 1 == 0 ? '' + datum.value : ''", "grid": true, "encoding": {"ticks": {"y2": {"condition": {"test": "datum.value % 1 != 0", "value": 8}, "value": 15}}, "grid": {"opacity": {"condition": {"test": "datum.value == 0", "value": 1}, "value": 0}}}}},
           "y": {"field": "var", "type": "nominal", "scale": {"type": "point", "padding": 0.66, "domain": ["Sex", "CFTR genotype", "NBS - ECD", "NBS - LCD", "Coughing", "Pulmonary exacerbation", "S. aureus / H. influenzae", "P. aeruginosa"]}, "axis": {"title": null, "labelExpr": "datum.value == 'CFTR genotype' ? 'genotype' : datum.value", "encoding": {"labels": {"fontStyle": {"condition": {"test": "datum.value == 'P. aeruginosa' || datum.value == 'S. aureus / H. influenzae'", "value": "italic"}, "value": "normal"}}}}}}},
        {"transform": [{"filter": "isValid(datum.hi)"}], "mark": {"type": "tick", "color": "#3a3a3a", "thickness": 2.5, "size": 11, "orient": "vertical", "opacity": 1},
         "encoding": {
           "x": {"field": "hi", "type": "quantitative", "scale": {"domain": [-2, 2], "nice": false, "zero": false}, "axis": {"title": "Estimates of MRI mucus subscore", "values": [-2, -1.5, -1, -0.5, 0, 0.5, 1, 1.5, 2], "labelExpr": "datum.value % 1 == 0 ? '' + datum.value : ''", "grid": true, "encoding": {"ticks": {"y2": {"condition": {"test": "datum.value % 1 != 0", "value": 8}, "value": 15}}, "grid": {"opacity": {"condition": {"test": "datum.value == 0", "value": 1}, "value": 0}}}}},
           "y": {"field": "var", "type": "nominal", "scale": {"type": "point", "padding": 0.66, "domain": ["Sex", "CFTR genotype", "NBS - ECD", "NBS - LCD", "Coughing", "Pulmonary exacerbation", "S. aureus / H. influenzae", "P. aeruginosa"]}, "axis": {"title": null, "labelExpr": "datum.value == 'CFTR genotype' ? 'genotype' : datum.value", "encoding": {"labels": {"fontStyle": {"condition": {"test": "datum.value == 'P. aeruginosa' || datum.value == 'S. aureus / H. influenzae'", "value": "italic"}, "value": "normal"}}}}}}},
        {"mark": {"type": "circle", "color": "#000000", "opacity": 1, "size": 180},
         "encoding": {
           "x": {"field": "est", "type": "quantitative", "scale": {"domain": [-2, 2], "nice": false, "zero": false}, "axis": {"title": "Estimates of MRI mucus subscore", "values": [-2, -1.5, -1, -0.5, 0, 0.5, 1, 1.5, 2], "labelExpr": "datum.value % 1 == 0 ? '' + datum.value : ''", "grid": true, "encoding": {"ticks": {"y2": {"condition": {"test": "datum.value % 1 != 0", "value": 8}, "value": 15}}, "grid": {"opacity": {"condition": {"test": "datum.value == 0", "value": 1}, "value": 0}}}}},
           "y": {"field": "var", "type": "nominal", "scale": {"type": "point", "padding": 0.66, "domain": ["Sex", "CFTR genotype", "NBS - ECD", "NBS - LCD", "Coughing", "Pulmonary exacerbation", "S. aureus / H. influenzae", "P. aeruginosa"]}, "axis": {"title": null, "labelExpr": "datum.value == 'CFTR genotype' ? 'genotype' : datum.value", "encoding": {"labels": {"fontStyle": {"condition": {"test": "datum.value == 'P. aeruginosa' || datum.value == 'S. aureus / H. influenzae'", "value": "italic"}, "value": "normal"}}}}}}},
        {"transform": [{"filter": "datum.var == 'CFTR genotype'"}],
         "mark": {"type": "text", "text": "CFTR", "fontStyle": "italic", "fontSize": 32, "font": "Liberation Sans", "align": "right", "baseline": "middle", "dx": -161, "color": "#1a1a1a"},
         "encoding": {
           "x": {"datum": -2, "type": "quantitative", "scale": {"domain": [-2, 2], "nice": false, "zero": false}, "axis": {"title": "Estimates of MRI mucus subscore", "values": [-2, -1.5, -1, -0.5, 0, 0.5, 1, 1.5, 2], "labelExpr": "datum.value % 1 == 0 ? '' + datum.value : ''", "grid": true, "encoding": {"ticks": {"y2": {"condition": {"test": "datum.value % 1 != 0", "value": 8}, "value": 15}}, "grid": {"opacity": {"condition": {"test": "datum.value == 0", "value": 1}, "value": 0}}}}},
           "y": {"field": "var", "type": "nominal", "scale": {"type": "point", "padding": 0.66, "domain": ["Sex", "CFTR genotype", "NBS - ECD", "NBS - LCD", "Coughing", "Pulmonary exacerbation", "S. aureus / H. influenzae", "P. aeruginosa"]}, "axis": {"title": null, "labelExpr": "datum.value == 'CFTR genotype' ? 'genotype' : datum.value", "encoding": {"labels": {"fontStyle": {"condition": {"test": "datum.value == 'P. aeruginosa' || datum.value == 'S. aureus / H. influenzae'", "value": "italic"}, "value": "normal"}}}}}}}
      ]
    }
  ],
  "config": {
    "view": {"stroke": null},
    "font": "Liberation Sans",
    "axis": {"grid": false, "domainColor": "#333333", "domainWidth": 3, "tickColor": "#333333", "tickWidth": 2.5,
      "labelFont": "Liberation Sans", "labelFontSize": 31, "labelColor": "#1a1a1a", "labelLimit": 1000, "labelOverlap": false,
      "titleFont": "Liberation Sans", "titleFontSize": 34, "titleFontWeight": "normal", "titleColor": "#1a1a1a"},
    "axisX": {"labelPadding": 10, "titlePadding": 20, "labelFlush": false, "titleLineHeight": 40, "tickSize": 15, "gridColor": "#8a8a8a", "gridDash": [2, 2], "gridWidth": 1.5},
    "axisY": {"tickSize": 15, "labelPadding": 5, "labelFontSize": 32}
  }
}
